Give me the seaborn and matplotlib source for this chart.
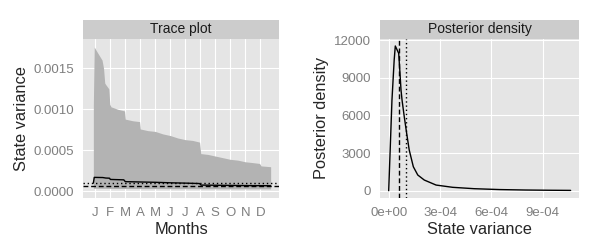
import numpy as np
import pandas as pd
import matplotlib
matplotlib.use("Agg")
import matplotlib.pyplot as plt
from matplotlib.patches import Rectangle
import seaborn as sns

# Datos
meses = ["J", "F", "M", "A", "M", "J", "J", "A", "S", "O", "N", "D"]

# banda de credibilidad (posicion en meses)
banda_x = [0.87, 0.93, 1.05, 1.25, 1.45, 1.55, 1.63, 1.70, 1.90, 1.97, 2.05, 2.50,
           2.95, 3.00, 3.50, 3.95, 4.00, 4.50, 5.00, 5.50, 6.00, 6.50, 7.00, 7.50,
           7.95, 8.03, 8.50, 9.00, 9.50, 10.0, 10.5, 11.0, 11.5, 11.95, 12.05, 12.69]
banda_sup = [0.00105, 0.00176, 0.00172, 0.00166, 0.00160, 0.00150, 0.00132, 0.00130,
             0.00125, 0.00106, 0.00103, 0.00100, 0.00098, 0.00088, 0.00086, 0.00085,
             0.00076, 0.00074, 0.00073, 0.00070, 0.00068, 0.00065, 0.00063, 0.00062,
             0.00060, 0.00046, 0.00045, 0.00043, 0.00041, 0.00039, 0.00038, 0.00036,
             0.00035, 0.00034, 0.00031, 0.00030]
banda_inf = [0.000036, 0.000037, 0.000037, 0.000037, 0.000036, 0.000036, 0.000036,
             0.000036, 0.000035, 0.000035, 0.000035, 0.000035, 0.000034, 0.000034,
             0.000034, 0.000034, 0.000033, 0.000033, 0.000033, 0.000033, 0.000032,
             0.000032, 0.000032, 0.000032, 0.000031, 0.000031, 0.000031, 0.000031,
             0.000030, 0.000030, 0.000030, 0.000030, 0.000030, 0.000030, 0.000030,
             0.000030]

# traza (mediana)
traza_x = [0.87, 0.93, 1.50, 1.70, 1.95, 2.00, 2.90, 3.00, 4.00, 5.00, 6.00, 7.00,
           7.95, 8.05, 9.00, 10.0, 11.0, 12.69]
traza_y = [0.000100, 0.000170, 0.000168, 0.000162, 0.000160, 0.000145, 0.000140,
           0.000118, 0.000114, 0.000110, 0.000104, 0.000100, 0.000095, 0.000076,
           0.000074, 0.000072, 0.000070, 0.000068]

mediana = 0.00006
media = 0.0001

# densidad posterior
dens_x = [0, 1.9e-5, 3.2e-5, 3.86e-5, 5.85e-5, 6.6e-5, 7.2e-5, 7.8e-5, 9.1e-5,
          1.05e-4, 1.2e-4, 1.44e-4, 1.7e-4, 2.08e-4, 2.77e-4, 3.74e-4, 5.0e-4,
          6.5e-4, 8.0e-4, 9.5e-4, 1.064e-3]
dens_y = [0, 7200, 10400, 11525, 10940, 9350, 8020, 7220, 5890, 4570, 3240, 1910,
          1250, 850, 450, 270, 160, 90, 55, 35, 25]

ticks_var = [0.0, 0.0005, 0.0010, 0.0015]
etiq_var = ["0.0000", "0.0005", "0.0010", "0.0015"]
ticks_dx = [0.0, 3e-4, 6e-4, 9e-4]
etiq_dx = ["0e+00", "3e-04", "6e-04", "9e-04"]
ticks_dy = [0, 3000, 6000, 9000, 12000]
etiq_dy = ["0", "3000", "6000", "9000", "12000"]

sns.set_style("darkgrid", {"axes.facecolor": "#E5E5E5", "grid.color": "white",
                           "axes.edgecolor": "none"})
plt.rcParams["font.family"] = ["Liberation Sans", "DejaVu Sans"]

fig = plt.figure(figsize=(6, 2.5), dpi=100)
ax1 = fig.add_axes([83 / 600, 1 - 197.7 / 250, 196 / 600, 158.7 / 250])
ax2 = fig.add_axes([380 / 600, 1 - 197.7 / 250, 199.3 / 600, 158.7 / 250])


def estilo(ax, titulo):
    ax.grid(True, color="white", linewidth=0.8)
    ax.set_axisbelow(True)
    for s in ax.spines.values():
        s.set_visible(False)
    ax.tick_params(axis="both", length=3.2, width=0.7, color="#333333",
                   labelcolor="#7F7F7F", labelsize=9.5, pad=3.5)
    h = 19 / 158.7
    ax.add_patch(Rectangle((0, 1), 1, h, transform=ax.transAxes, clip_on=False,
                           facecolor="#CCCCCC", edgecolor="none"))
    ax.text(0.5, 1 + h / 2, titulo, transform=ax.transAxes, ha="center",
            va="center", fontsize=10, color="#1A1A1A")


# Panel izquierdo: traza
ax1.fill_between(banda_x, banda_inf, banda_sup, color="#B3B3B3", linewidth=0)
df_traza = pd.DataFrame({"mes": traza_x, "var": traza_y})
sns.lineplot(data=df_traza, x="mes", y="var", ax=ax1, color="black", linewidth=1.0)
ax1.axhline(mediana, color="black", linewidth=1.0, linestyle=(0, (3.5, 2)))
ax1.axhline(media, color="black", linewidth=1.0, linestyle=(0, (1, 2)))
ax1.set_xlim(0.18, 13.247)
ax1.set_ylim(-0.0000777, 0.001857)
ax1.set_xticks(range(1, 13))
ax1.set_xticklabels(meses)
ax1.set_yticks(ticks_var)
ax1.set_yticklabels(etiq_var)
estilo(ax1, "Trace plot")
ax1.set_xlabel("Months", fontsize=11.8)
ax1.set_ylabel("State variance", fontsize=11.8)
ax1.xaxis.set_label_coords(0.5, -0.2)
ax1.yaxis.set_label_coords(-0.313, 0.5)
ax1.xaxis.label.set_va("center")
ax1.yaxis.label.set_va("center")

# Panel derecho: densidad
df_dens = pd.DataFrame({"x": dens_x, "y": dens_y})
sns.lineplot(data=df_dens, x="x", y="y", ax=ax2, color="black", linewidth=1.0,
             sort=False)
ax2.axvline(mediana, color="black", linewidth=1.0, linestyle=(0, (3.5, 2)))
ax2.axvline(media, color="black", linewidth=1.0, linestyle=(0, (1, 2)))
ax2.set_xlim(-5.09e-5, 1.1147e-3)
ax2.set_ylim(-557, 12081)
ax2.set_xticks(ticks_dx)
ax2.set_xticklabels(etiq_dx)
ax2.set_yticks(ticks_dy)
ax2.set_yticklabels(etiq_dy)
estilo(ax2, "Posterior density")
ax2.set_xlabel("State variance", fontsize=11.8)
ax2.set_ylabel("Posterior density", fontsize=11.8)
ax2.xaxis.set_label_coords(0.5, -0.2)
ax2.yaxis.set_label_coords(-0.2925, 0.5)
ax2.xaxis.label.set_va("center")
ax2.yaxis.label.set_va("center")

fig.savefig("out.png", dpi=100, facecolor="white")
